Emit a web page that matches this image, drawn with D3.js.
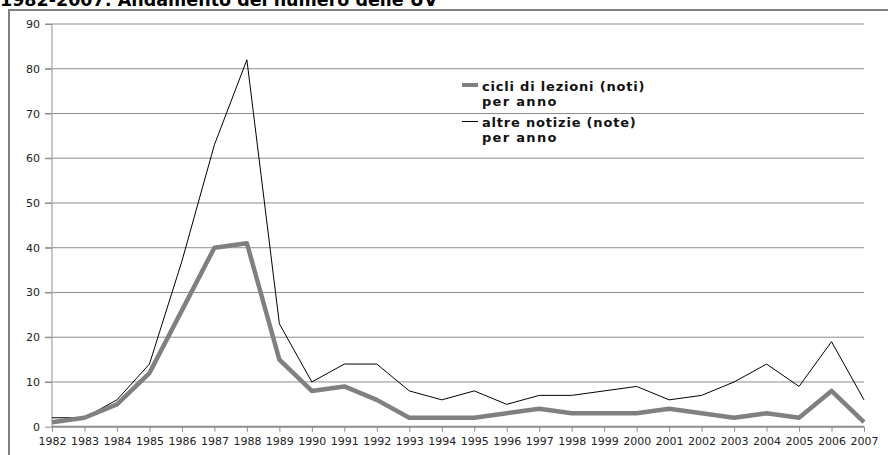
<!DOCTYPE html>
<html>
<head>
<meta charset="utf-8">
<script src="https://cdn.jsdelivr.net/npm/d3@7"></script>
<style>
  html, body { margin: 0; padding: 0; background: #fff; }
  svg { display: block; font-family: "DejaVu Sans", sans-serif; }
</style>
</head>
<body>
<svg id="chart" width="888" height="455"></svg>
<script>
// ── dati ──
const years = [1982, 1983, 1984, 1985, 1986, 1987, 1988, 1989, 1990, 1991, 1992, 1993, 1994,
  1995, 1996, 1997, 1998, 1999, 2000, 2001, 2002, 2003, 2004, 2005, 2006, 2007];
const cicli = [1, 2, 5, 12, 26, 40, 41, 15, 8, 9, 6, 2, 2, 2, 3, 4, 3, 3, 3, 4, 3, 2, 3, 2, 8, 1];
const altre = [2, 2, 6, 14, 37, 63, 82, 23, 10, 14, 14, 8, 6, 8, 5, 7, 7, 8, 9, 6, 7, 10, 14, 9, 19, 6];
const yTicks = [0, 10, 20, 30, 40, 50, 60, 70, 80, 90];
const legendLabels = [
  ["cicli di lezioni (noti)", "per anno"],
  ["altre notizie (note)", "per anno"]
];

const svg = d3.select("#chart");

// ── titolo (tagliato in alto come nell'originale) ──
svg.append("text")
  .attr("x", 0).attr("y", 6)
  .attr("font-size", 17.5).attr("font-weight", "bold")
  .text("1982-2007: Andamento del numero delle UV");

// ── cornice ──
svg.append("path")
  .attr("d", "M9,455V10H888")
  .attr("fill", "none").attr("stroke", "#808080").attr("stroke-width", 2);

const x = d3.scalePoint().domain(years).range([52, 864]);
const y = d3.scaleLinear().domain([0, 90]).range([426.7, 24]);

// griglia
svg.append("g")
  .selectAll("line").data(yTicks.filter((d) => d > 0)).join("line")
  .attr("x1", 45).attr("x2", 864)
  .attr("y1", (d) => y(d)).attr("y2", (d) => y(d))
  .attr("stroke", "#8c8c8c").attr("stroke-width", 1);

// asse y
svg.append("line")
  .attr("x1", 52).attr("x2", 52).attr("y1", y(90)).attr("y2", y(0))
  .attr("stroke", "#b4b4b4").attr("stroke-width", 1.5);

const yAxis = svg.append("g")
  .attr("transform", "translate(52,0)")
  .call(d3.axisLeft(y).tickValues(yTicks).tickSize(7).tickPadding(5));
yAxis.select(".domain").remove();
yAxis.selectAll(".tick line").attr("stroke", "#8c8c8c");
yAxis.selectAll("text").attr("font-size", 11).attr("font-family", "DejaVu Sans").attr("fill", "#222");

// asse x
const xAxis = svg.append("g")
  .attr("transform", `translate(0,${y(0)})`)
  .call(d3.axisBottom(x).tickSize(5).tickPadding(6).tickSizeOuter(0));
xAxis.select(".domain").attr("stroke", "#8c8c8c").attr("stroke-width", 2)
  .attr("d", `M52,0H864`);
xAxis.selectAll(".tick line").attr("stroke", "#8c8c8c");
xAxis.selectAll("text").attr("font-size", 11).attr("font-family", "DejaVu Sans").attr("fill", "#222");

// ── serie ──
const line = d3.line().x((d, i) => x(years[i])).y((d) => y(d));

svg.append("path").datum(altre)
  .attr("d", line).attr("fill", "none")
  .attr("stroke", "#000").attr("stroke-width", 1).attr("stroke-linejoin", "miter");

svg.append("path").datum(cicli)
  .attr("d", line).attr("fill", "none")
  .attr("stroke", "#808080").attr("stroke-width", 4.5).attr("stroke-linejoin", "round");

// ── legenda ──
const legend = svg.append("g");
const legendStyles = [
  { stroke: "#808080", width: 4, y: 85 },
  { stroke: "#000", width: 1, y: 121.5 }
];
legendStyles.forEach((s, i) => {
  legend.append("line")
    .attr("x1", 462).attr("x2", 478).attr("y1", s.y).attr("y2", s.y)
    .attr("stroke", s.stroke).attr("stroke-width", s.width);
  const t = legend.append("text")
    .attr("x", 482).attr("y", s.y + 5.5)
    .attr("font-size", 13).attr("font-weight", "bold").attr("fill", "#111")
    .attr("letter-spacing", 0.8);
  t.append("tspan").text(legendLabels[i][0]);
  t.append("tspan").attr("x", 482).attr("dy", 15)
    .attr("letter-spacing", 1.3).text(legendLabels[i][1]);
});
</script>
</body>
</html>
